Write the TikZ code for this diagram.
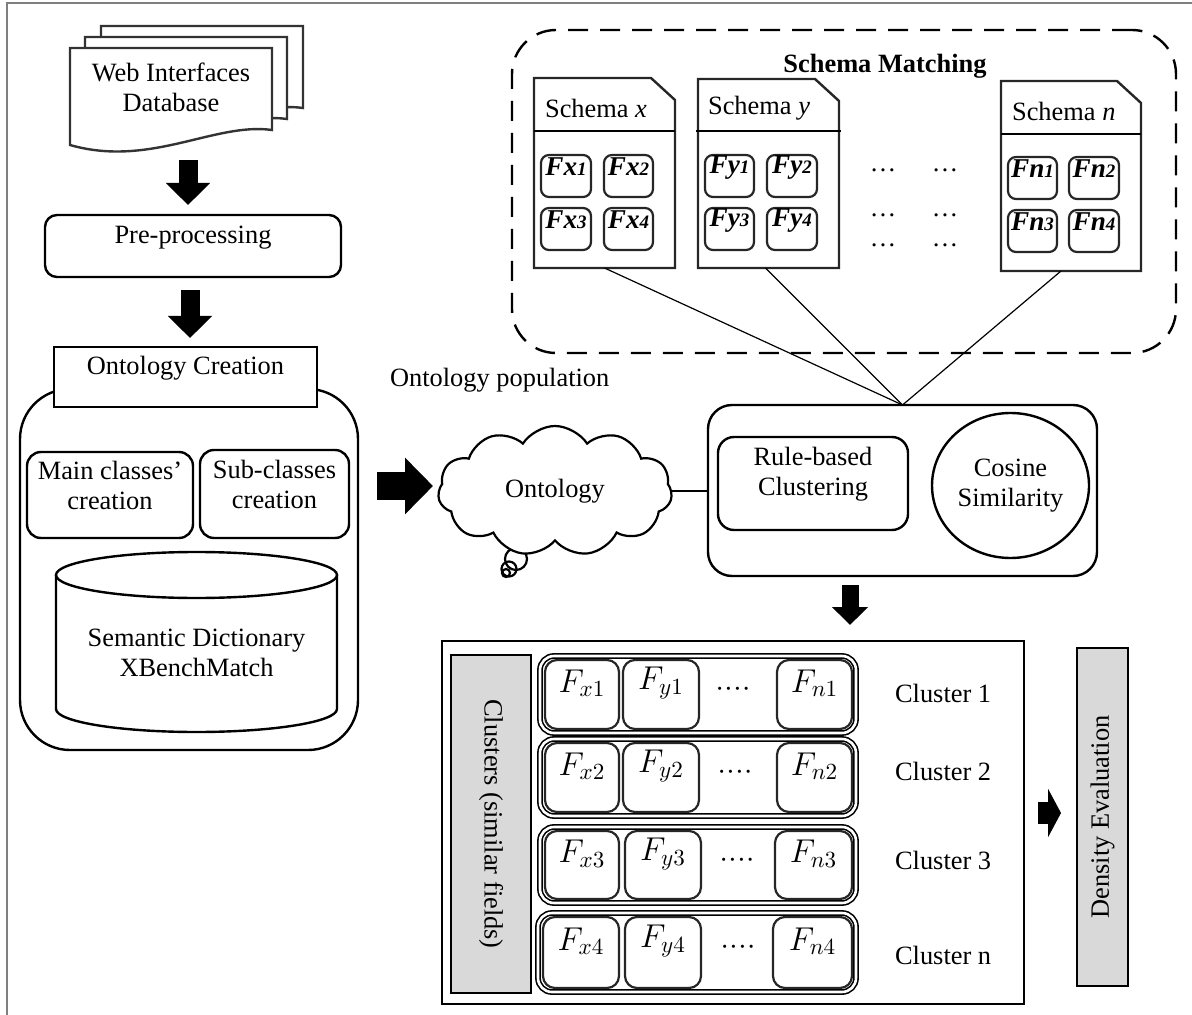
\RequirePackage{fix-cm}
\documentclass[tikz,border=0pt]{standalone}
\usepackage{fontspec}
\setmainfont{Liberation Serif}
\usetikzlibrary{arrows.meta,fit,shapes.symbols,shapes.geometric}
\newcommand\fieldlab[2]{\textbf{\textit{F#1{\fontsize{9.5}{10}\selectfont #2}}}}
\newcommand\schemadoc[1]{\draw[line width=1.2pt, draw=black!85] (#1.south west) -- (#1.north west) -- ([xshift=-12pt]#1.north east) -- ([yshift=-11pt]#1.north east) -- (#1.south east) -- cycle;}
\newcommand\fourdots{\textperiodcentered\textperiodcentered\textperiodcentered\textperiodcentered}
\definecolor{boxgray}{HTML}{D9D9D9}
\definecolor{framegray}{HTML}{7F7F7F}
\begin{document}
\begin{tikzpicture}[x=0.5pt,y=-0.5pt,
  every node/.style={font=\fontsize{13.2}{15}\selectfont},
  fitbox/.style={inner sep=0pt, outer sep=0pt, align=center},
  box/.style={fitbox, draw, line width=1.2pt},
  rbox/.style={box, rounded corners=#1},
  sfield/.style={box, line width=1.1pt, rounded corners=4pt, draw=black!85, font=\fontsize{13.6}{15}\selectfont},
  cfield/.style={box, line width=1.1pt, rounded corners=6pt, draw=black!85, font=\fontsize{16.5}{18}\selectfont},
  crow/.style={fitbox, draw, line width=0.8pt, double, double distance=1.3pt, rounded corners=7pt},
  thinline/.style={line width=0.6pt},
  blk/.style args={#1/#2/#3}{line width=#1, -{Triangle[width=#2,length=#3]}},
]
\useasboundingbox (0,0) rectangle (1192,1015);
\draw[framegray, line width=1pt] (7,1015) -- (7,3) -- (1192,3);

% ---- Web interfaces database (stacked documents)
\foreach \dx/\dy in {31/-22, 15/-11, 0/0} {
  \draw[line width=1.2pt, fill=white, draw=black!80, shift={(\dx,\dy)}]
    (70,145) -- (70,48) -- (272,48) -- (272,130) .. controls (215,122) and (150,168) .. (70,145) -- cycle;
}
\node[fitbox, fit={(70,48) (272,145)}] (wid) {Web Interfaces\\Database};

\node[rbox=6pt, fit={(45,215) (341,277)}] (pre) {Pre-processing};
\draw[blk=9.5pt/21.5pt/11pt] ([xshift=8.5pt,yshift=-7.5pt]wid.south) -- ([xshift=-2.5pt,yshift=5pt]pre.north);

% ---- Ontology creation
\node[rbox=25pt, fit={(20,389) (358,750)}] (cont) {};
\node[box, fill=white, fit={(54,347) (317,407)}] (oc) {Ontology Creation};
\draw[blk=9.5pt/21.5pt/11pt] ([xshift=-1.5pt,yshift=-6.5pt]pre.south) -- ([xshift=2.25pt,yshift=4.5pt]oc.north);
\node[rbox=7pt, fit={(27,452) (193,538)}] (mcc) {Main classes’\\creation};
\node[rbox=7pt, fit={(200,450) (349,538)}] (scc) {Sub-classes\\creation};
\draw[line width=1.2pt] (56,575) -- (56,709) arc[start angle=180, end angle=360, x radius=70.25pt, y radius=11.5pt] -- (337,575);
\draw[line width=1.2pt] (196.5,575) ellipse [x radius=70.25pt, y radius=11.5pt];
\node[fitbox] (sd) at (196.5,653) {Semantic Dictionary\\XBenchMatch};

\draw[blk=14pt/27.5pt/14pt] ([xshift=9.5pt,yshift=41.75pt]cont.east) -- ++(56,0);
\node[anchor=west] (op) at (383,380) {Ontology population};

% ---- Ontology cloud
\draw[line width=1.1pt, fill=white] (516,559) circle[radius=5.5pt];
\draw[line width=1.1pt] (509,569) circle[radius=3.75pt];
\draw[line width=1.1pt] (506,573) circle[radius=2pt];
\node[cloud, draw, fill=white, line width=1.1pt, cloud puffs=11, cloud puff arc=115, aspect=1.75,
      minimum width=117pt, minimum height=65pt, inner sep=0pt] (onto) at (555,491) {Ontology};

% ---- Clustering box
\node[rbox=12pt, fit={(708,405) (1097,576)}] (clus) {};
\node[rbox=8pt, fit={(718,437) (908,530)}] (rule) {Rule-based\\Clustering};
\node[ellipse, draw, line width=1.2pt, minimum width=78.5pt, minimum height=72.5pt, inner sep=0pt, align=center] (cos) at (1010.5,485.5) {Cosine\\Similarity};
\draw[thinline] (onto.east) -- (onto.east -| clus.west);

% ---- Schema matching
\node[fitbox, draw, dash pattern=on 10pt off 6pt, line width=1.2pt, rounded corners=22pt, fit={(512,30) (1176,353)}] (sm) {};
\node[font=\fontsize{13.2}{15}\selectfont\bfseries] (smt) at (885,66) {Schema Matching};

\node[fitbox, fit={(534,78) (675,268)}] (sx) {};
\schemadoc{sx}
\draw[line width=1.1pt] (534,131) -- (675,131);
\node[anchor=west] (sxl) at (538,108) {Schema \textit{x}};
\node[sfield, fit={(541,155) (591,197)}] (fx1) {\fieldlab{x}{1}};
\node[sfield, fit={(604,155) (653,197)}] (fx2) {\fieldlab{x}{2}};
\node[sfield, fit={(541,208) (591,250)}] (fx3) {\fieldlab{x}{3}};
\node[sfield, fit={(604,208) (653,250)}] (fx4) {\fieldlab{x}{4}};

\node[fitbox, fit={(698,79) (839,268)}] (sy) {};
\schemadoc{sy}
\draw[line width=1.1pt] (696,131) -- (841,131);
\node[anchor=west] (syl) at (701,108) {Schema \textit{y}};
\node[sfield, fit={(705,155) (754,197)}] (fy1) {\fieldlab{y}{1}};
\node[sfield, fit={(767,155) (817,197)}] (fy2) {\fieldlab{y}{2}};
\node[sfield, fit={(705,208) (754,250)}] (fy3) {\fieldlab{y}{3}};
\node[sfield, fit={(767,208) (817,250)}] (fy4) {\fieldlab{y}{4}};

\node[fitbox, fit={(1001,81) (1141,271)}] (sn) {};
\schemadoc{sn}
\draw[line width=1.1pt] (1001,134) -- (1141,134);
\node[anchor=west] (snl) at (1005,111) {Schema \textit{n}};
\node[sfield, fit={(1008,157) (1057,199)}] (fn1) {\fieldlab{n}{1}};
\node[sfield, fit={(1069,157) (1119,199)}] (fn2) {\fieldlab{n}{2}};
\node[sfield, fit={(1008,210) (1057,252)}] (fn3) {\fieldlab{n}{3}};
\node[sfield, fit={(1069,210) (1119,252)}] (fn4) {\fieldlab{n}{4}};

\node (d1) at (883,170) {…};
\node (d2) at (945,170) {…};
\node (d3) at (883,215) {…};
\node (d4) at (945,215) {…};
\node (d5) at (883,245) {…};
\node (d6) at (945,245) {…};

\draw[thinline] (sx.south) -- (clus.north);
\draw[thinline] ([xshift=-1.5pt]sy.south) -- (clus.north);
\draw[thinline] ([xshift=-5pt]sn.south) -- (clus.north);

\draw[blk=8.5pt/17.5pt/9pt] ([xshift=-26.25pt,yshift=-4.5pt]clus.south) -- ++(0,40);

% ---- Clusters
\node[box, fit={(442,641) (1024,1004)}] (cbox) {};
\node[box, fill=boxgray, fit={(451,655) (531,993)}] (cg) {};
\node[rotate=-90] (cgt) at (cg.center) {Clusters (similar fields)};

\node[crow, fit={(540,656) (856,733)}] (r1) {};
\node[crow, fit={(540,739) (856,816)}] (r2) {};
\node[crow, fit={(540,827) (856,903)}] (r3) {};
\node[crow, fit={(538,913) (856,992)}] (r4) {};

\node[cfield, fit={(545,660) (619,729)}] (c1x) {$F_{x1}$};
\node[cfield, fit={(623,660) (699,729)}] (c1y) {$F_{y1}$};
\node[cfield, fit={(777,660) (852,729)}] (c1n) {$F_{n1}$};
\node[cfield, fit={(545,743) (619,812)}] (c2x) {$F_{x2}$};
\node[cfield, fit={(623,743) (699,812)}] (c2y) {$F_{y2}$};
\node[cfield, fit={(777,743) (852,812)}] (c2n) {$F_{n2}$};
\node[cfield, fit={(545,831) (619,899)}] (c3x) {$F_{x3}$};
\node[cfield, fit={(625,831) (701,899)}] (c3y) {$F_{y3}$};
\node[cfield, fit={(775,831) (852,899)}] (c3n) {$F_{n3}$};
\node[cfield, fit={(543,917) (619,988)}] (c4x) {$F_{x4}$};
\node[cfield, fit={(625,917) (701,988)}] (c4y) {$F_{y4}$};
\node[cfield, fit={(773,917) (852,988)}] (c4n) {$F_{n4}$};

\node (p1) at (733,692) {\fourdots};
\node (p2) at (735,775) {\fourdots};
\node (p3) at (737,863) {\fourdots};
\node (p4) at (738,950) {\fourdots};

\node[anchor=west] (cl1) at (888,693) {Cluster 1};
\node[anchor=west] (cl2) at (888,771) {Cluster 2};
\node[anchor=west] (cl3) at (888,860) {Cluster 3};
\node[anchor=west] (cln) at (888,955) {Cluster n};

\draw[blk=11pt/24pt/6.5pt] ([xshift=7pt,yshift=4.75pt]cbox.east) -- ++(23,0);
\node[box, fill=boxgray, fit={(1077,648) (1128,986)}] (de) {};
\node[rotate=90] (det) at (de.center) {Density Evaluation};
\end{tikzpicture}
\end{document}
